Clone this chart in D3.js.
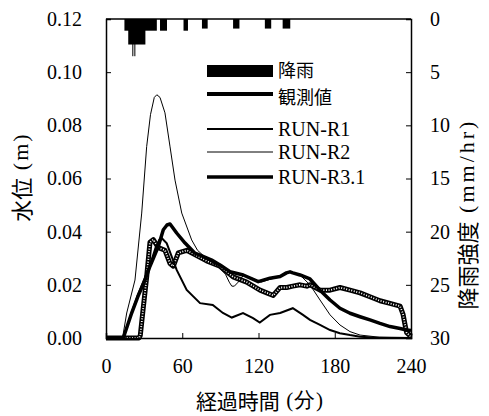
<!DOCTYPE html>
<html>
<head>
<meta charset="utf-8">
<script src="https://cdn.jsdelivr.net/npm/d3@7"></script>
<style>
body { margin: 0; background: #fff; }
text { fill: #000; }
</style>
</head>
<body>
<script>
// rainfall blocks (minutes, mm/hr)
var rainStart = [14.5, 17.5, 20.7, 22.3, 42.5, 61, 75.5, 100, 125, 139];
var rainEnd   = [40, 31, 21.5, 23.1, 48, 64.5, 80, 105, 130, 145];
var rainRate  = [1.1, 2.4, 3.5, 3.5, 1.1, 1.1, 0.9, 0.9, 0.9, 0.9];

// observed water level
var obsTime  = [0, 26, 27, 29, 32, 34.6, 37.2, 41.2, 46.4, 50.4, 53, 56.9, 63.5, 71.4, 79.2, 89.7, 100, 110.7, 121.2, 126.5, 131.6, 137, 142.2, 147, 152.7, 158, 160.5, 168.4, 176.3, 184.1, 192, 199.9, 207.7, 215.6, 223.5, 231.4, 233.7, 235.3, 236.6, 240];
var obsLevel = [0, 0, 0.001, 0.010, 0.023, 0.036, 0.037, 0.034, 0.033, 0.028, 0.027, 0.032, 0.033, 0.031, 0.029, 0.027, 0.023, 0.021, 0.018, 0.017, 0.016, 0.019, 0.019, 0.0195, 0.020, 0.0195, 0.020, 0.018, 0.018, 0.019, 0.018, 0.017, 0.0155, 0.014, 0.013, 0.012, 0.009, 0.005, 0.002, 0.0005];

// RUN-R1
var r1Time  = [0, 13.6, 20, 25, 30, 35, 39, 42, 44, 47.8, 55.6, 63.5, 74, 84, 92, 99, 107.8, 115.7, 121, 129, 137, 147, 155, 160.5, 168.4, 176.3, 184, 192, 200, 210, 240];
var r1Level = [0, 0, 0.0094, 0.016, 0.022, 0.028, 0.034, 0.037, 0.0375, 0.0356, 0.0256, 0.0181, 0.0131, 0.0124, 0.0094, 0.0077, 0.0094, 0.0075, 0.0058, 0.0087, 0.0094, 0.0112, 0.0087, 0.0068, 0.0049, 0.003, 0.0018, 0.0011, 0.0005, 0.0002, 0];

// RUN-R2
var r2Time  = [0, 13, 16.3, 22.8, 28.1, 32, 35, 38, 40, 42.5, 46.4, 50.4, 54.3, 59.6, 67.4, 72, 80, 88, 94, 97, 99, 101, 104, 108, 115, 122, 130, 137, 144.8, 152, 160.5, 168.4, 176.3, 184.1, 192, 199.9, 215, 240];
var r2Level = [0, 0, 0.0094, 0.0218, 0.047, 0.072, 0.084, 0.0905, 0.0915, 0.0905, 0.0847, 0.0719, 0.0594, 0.047, 0.0369, 0.033, 0.0295, 0.027, 0.024, 0.021, 0.0195, 0.0195, 0.021, 0.0235, 0.0225, 0.021, 0.0222, 0.0231, 0.0249, 0.024, 0.020, 0.0143, 0.0087, 0.0049, 0.0024, 0.0011, 0.0003, 0];

// RUN-R3.1
var r3Time  = [0, 13.6, 20.2, 25, 30.7, 34.6, 41.2, 45.1, 48, 50.4, 55.6, 62.2, 70, 74, 83.2, 89.7, 97.6, 108, 119.8, 129, 137, 142, 144.8, 147, 152.7, 160.5, 168.4, 176.3, 184.1, 192, 199.9, 207.7, 215.6, 223.5, 231.4, 236.6, 240];
var r3Level = [0, 0, 0.0094, 0.0155, 0.0218, 0.027, 0.0345, 0.0407, 0.0425, 0.0429, 0.0395, 0.0357, 0.0319, 0.0312, 0.0293, 0.0275, 0.0249, 0.0237, 0.0212, 0.0225, 0.0231, 0.0245, 0.0249, 0.0245, 0.0237, 0.0222, 0.018, 0.0143, 0.0112, 0.0093, 0.008, 0.0068, 0.0055, 0.0043, 0.0036, 0.003, 0.0028];

var xTicks = [0, 60, 120, 180, 240];
var yTicks = [0, 0.02, 0.04, 0.06, 0.08, 0.10, 0.12];
var rTicks = [0, 5, 10, 15, 20, 25, 30];

var legendNames = ["降雨", "観測値", "RUN-R1", "RUN-R2", "RUN-R3.1"];

var W = 489, H = 416;
var pL = 106, pT = 19, pR = 411, pB = 338;
var serif = "'Liberation Serif', 'Times New Roman', serif";
var jp = "'Noto Sans CJK JP', sans-serif";

var svg = d3.select("body")
	.append("svg")
	.attr("width", W)
	.attr("height", H);

var x = d3.scaleLinear().domain([0, 240]).range([pL, pR]);
var y = d3.scaleLinear().domain([0, 0.12]).range([pB, pT]);
var yR = d3.scaleLinear().domain([0, 30]).range([pT, pB]);

// rain bars hanging from the top
svg.append("g").selectAll("rect")
	.data(rainRate)
	.enter()
	.append("rect")
	.attr("x", function(d, i){ return x(rainStart[i]); })
	.attr("y", pT)
	.attr("width", function(d, i){ return x(rainEnd[i]) - x(rainStart[i]); })
	.attr("height", function(d){ return yR(d) - pT; })
	.style("fill", "#000");

function series(t, v) {
	return t.map(function(d, i){ return [d, v[i]]; });
}

var line = d3.line()
	.x(function(d){ return x(d[0]); })
	.y(function(d){ return y(d[1]); });

var obs = series(obsTime, obsLevel);

// observed: thick line with white dotted core
svg.append("path")
	.attr("d", line(obs))
	.style("fill", "none")
	.style("stroke", "#000")
	.style("stroke-width", 5)
	.style("stroke-linejoin", "round");
svg.append("path")
	.attr("d", line(obs))
	.style("fill", "none")
	.style("stroke", "#fff")
	.style("stroke-width", 1.8)
	.style("stroke-dasharray", "1,1.6");

svg.append("path")
	.attr("d", line(series(r2Time, r2Level)))
	.style("fill", "none")
	.style("stroke", "#000")
	.style("stroke-width", 1);

svg.append("path")
	.attr("d", line(series(r1Time, r1Level)))
	.style("fill", "none")
	.style("stroke", "#000")
	.style("stroke-width", 2);

svg.append("path")
	.attr("d", line(series(r3Time, r3Level)))
	.style("fill", "none")
	.style("stroke", "#000")
	.style("stroke-width", 3.5)
	.style("stroke-linejoin", "round");

function styleAxis(g) {
	g.select(".domain").style("stroke", "#000").style("stroke-width", 1.5);
	g.selectAll(".tick line").style("stroke", "#000");
	g.selectAll(".tick text")
		.style("font-family", serif)
		.style("font-size", "20px")
		.style("fill", "#000");
}

// frame and axes
svg.append("g")
	.attr("transform", "translate(0," + pB + ")")
	.call(d3.axisBottom(x).tickValues(xTicks).tickSize(-5).tickPadding(21))
	.call(styleAxis);

svg.append("g")
	.attr("transform", "translate(" + pL + ",0)")
	.call(d3.axisLeft(y).tickValues(yTicks).tickFormat(d3.format(".2f")).tickSize(-5).tickPadding(24))
	.call(styleAxis);

svg.append("g")
	.attr("transform", "translate(" + pR + ",0)")
	.call(d3.axisRight(yR).tickValues(rTicks).tickSize(-5).tickPadding(19))
	.call(styleAxis);

svg.append("line")
	.attr("x1", pL).attr("x2", pR)
	.attr("y1", pT).attr("y2", pT)
	.style("stroke", "#000")
	.style("stroke-width", 1.5);

// axis titles
function title(px, py, rot, jpText, latText, size, spacing) {
	var t = svg.append("text")
		.attr("transform", "translate(" + px + "," + py + ") rotate(" + rot + ")")
		.attr("dominant-baseline", "central")
		.style("text-anchor", "middle")
		.style("font-size", size + "px");
	t.append("tspan").style("font-family", jp).text(jpText);
	t.append("tspan").style("font-family", serif)
		.style("letter-spacing", spacing + "px")
		.text(" " + latText);
}

title(20, 177, -90, "水位", "(m)", 22, 2);
title(466, 214, -90, "降雨強度", "(mm/hr)", 22, 3);
title(260, 400, 0, "経過時間", "(分)", 21, 1);

// legend
var legY = [71, 94, 129, 152, 177];
var legTextY = [69, 96, 129, 152, 177];
var legWidth = [12, 4, 2, 1, 3.5];
var lg = svg.append("g");

lg.selectAll("line")
	.data(legendNames)
	.enter()
	.append("line")
	.attr("x1", 207)
	.attr("x2", 273)
	.attr("y1", function(d, i){ return legY[i]; })
	.attr("y2", function(d, i){ return legY[i]; })
	.style("stroke", "#000")
	.style("stroke-width", function(d, i){ return legWidth[i]; });

lg.selectAll("text")
	.data(legendNames)
	.enter()
	.append("text")
	.attr("x", 278)
	.attr("y", function(d, i){ return legTextY[i]; })
	.attr("dominant-baseline", "central")
	.style("font-family", function(d, i){ return i < 2 ? jp : serif; })
	.style("font-size", function(d, i){ return i < 2 ? "18px" : "20px"; })
	.text(function(d){ return d; });
</script>
</body>
</html>
